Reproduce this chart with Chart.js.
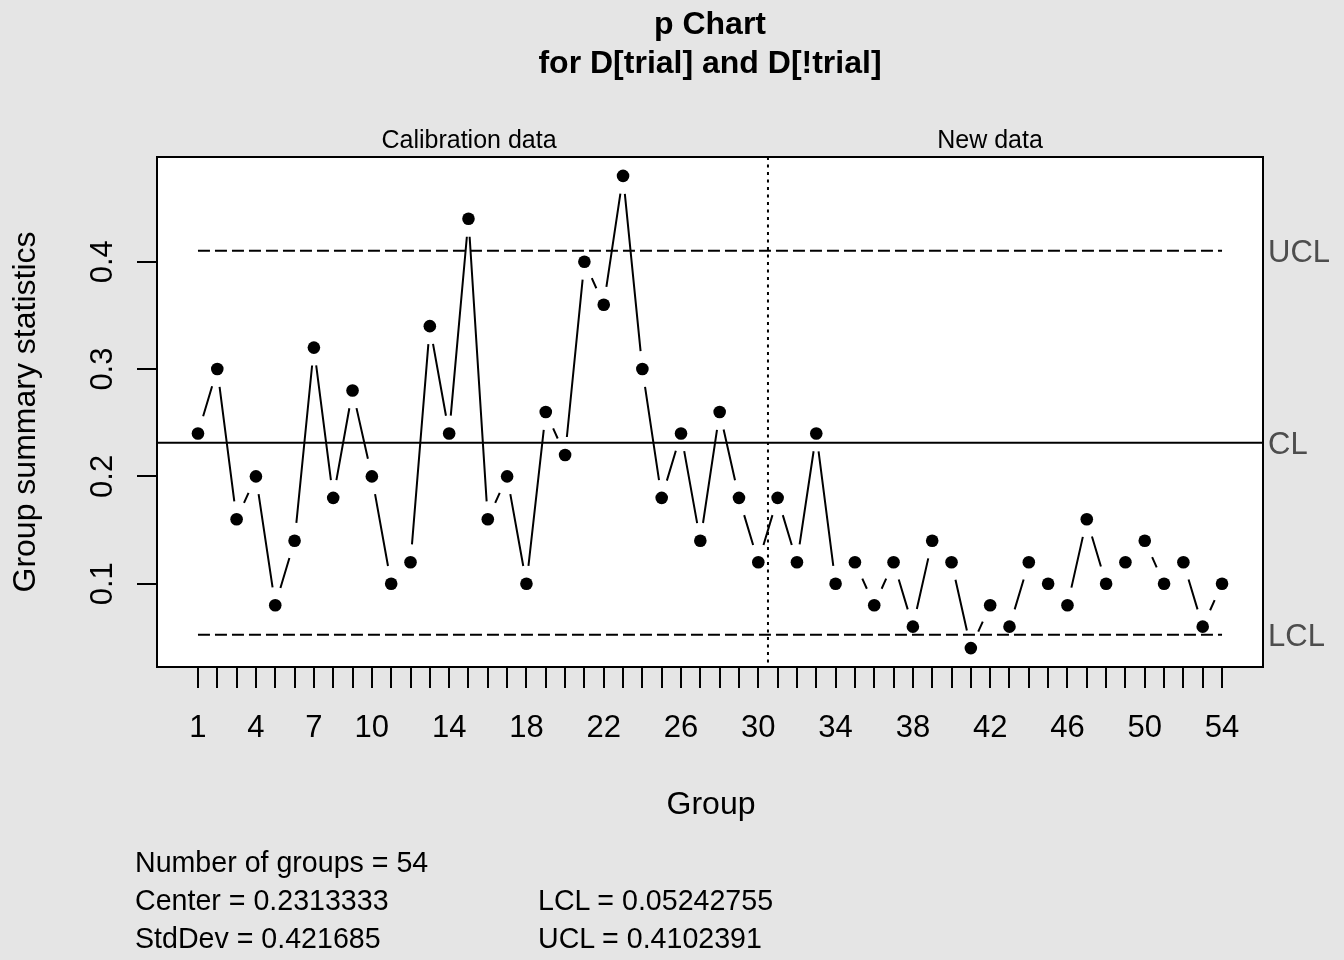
<!DOCTYPE html>
<html>
<head>
<meta charset="utf-8">
<script src="https://cdn.jsdelivr.net/npm/chart.js@4.4.1/dist/chart.umd.min.js"></script>
<style>
  html, body { margin: 0; padding: 0; background: #e5e5e5; }
  #wrap { position: relative; width: 1344px; height: 960px; overflow: hidden; font-family: "Liberation Sans", Arial, sans-serif; color: #000; }
  canvas { position: absolute; left: 0; top: 0; }
  .t { position: absolute; line-height: 0; white-space: nowrap; }
</style>
</head>
<body>
<div id="wrap"><canvas id="pChart" width="1344" height="960"></canvas></div>
<script>
// proportion defective per group (orange juice cans, n = 50)
const proportions = [
  0.24, 0.30, 0.16, 0.20, 0.08, 0.14, 0.32, 0.18, 0.28, 0.20,
  0.10, 0.12, 0.34, 0.24, 0.44, 0.16, 0.20, 0.10, 0.26, 0.22,
  0.40, 0.36, 0.48, 0.30, 0.18, 0.24, 0.14, 0.26, 0.18, 0.12,
  0.18, 0.12, 0.24, 0.10, 0.12, 0.08, 0.12, 0.06, 0.14, 0.12,
  0.04, 0.08, 0.06, 0.12, 0.10, 0.08, 0.16, 0.10, 0.12, 0.14,
  0.10, 0.12, 0.06, 0.10
]
const groups = proportions.map((_, i) => i + 1)
const xTickLabels = [1, 4, 7, 10, 14, 18, 22, 26, 30, 34, 38, 42, 46, 50, 54]
const yTicks = [0.1, 0.2, 0.3, 0.4]
const calibrationGroups = 30
const centerLine = 0.2313333
const lowerLimit = 0.05242755
const upperLimit = 0.4102391
const stdDev = 0.421685

const font = '"Liberation Sans", Arial, sans-serif'
Chart.defaults.font.family = font

// R-style axis extension (4% each side)
const nG = groups.length
const xMin = groups[0] - (nG - 1) * 0.04
const xMax = groups[nG - 1] + (nG - 1) * 0.04
const pMin = Math.min(...proportions), pMax = Math.max(...proportions)
const yMin = pMin - (pMax - pMin) * 0.04
const yMax = pMax + (pMax - pMin) * 0.04

const gap = 18

const rStyle = {
  id: "rStyle",
  beforeDraw(chart) {
    const { ctx, chartArea: a } = chart
    ctx.save()
    ctx.fillStyle = "#e5e5e5"
    ctx.fillRect(0, 0, chart.width, chart.height)
    ctx.fillStyle = "#ffffff"
    ctx.fillRect(a.left, a.top, a.right - a.left, a.bottom - a.top)
    ctx.restore()
  },
  afterDatasetsDraw(chart) {
    const { ctx, chartArea: a, scales } = chart
    const x = scales.x, y = scales.y
    ctx.save()
    ctx.strokeStyle = "#000"
    ctx.lineWidth = 2

    // center line
    const yc = y.getPixelForValue(centerLine)
    ctx.beginPath()
    ctx.moveTo(a.left, yc)
    ctx.lineTo(a.right, yc)
    ctx.stroke()

    // calibration / new data split
    const xs = x.getPixelForValue(calibrationGroups + 0.5)
    ctx.setLineDash([3, 4.5])
    ctx.beginPath()
    ctx.moveTo(xs, a.top)
    ctx.lineTo(xs, a.bottom)
    ctx.stroke()
    ctx.setLineDash([])

    // type = "b" segments with gaps around points
    const pts = chart.getDatasetMeta(0).data
    ctx.beginPath()
    for (let i = 0; i < pts.length - 1; i++) {
      const p0 = pts[i], p1 = pts[i + 1]
      const dx = p1.x - p0.x, dy = p1.y - p0.y
      const len = Math.hypot(dx, dy)
      if (len <= 2 * gap) continue
      const ux = dx / len, uy = dy / len
      ctx.moveTo(p0.x + ux * gap, p0.y + uy * gap)
      ctx.lineTo(p1.x - ux * gap, p1.y - uy * gap)
    }
    ctx.stroke()

    // box
    ctx.strokeRect(a.left, a.top, a.right - a.left, a.bottom - a.top)

    // y tick labels, parallel to the axis
    ctx.fillStyle = "#000"
    ctx.font = "31px " + font
    ctx.textAlign = "center"
    ctx.textBaseline = "alphabetic"
    yTicks.forEach(v => {
      ctx.save()
      ctx.translate(112, y.getPixelForValue(v))
      ctx.rotate(-Math.PI / 2)
      ctx.fillText(v.toFixed(1), 0, 0)
      ctx.restore()
    })

    // limit labels on the right
    ctx.fillStyle = "#4d4d4d"
    ctx.textAlign = "left"
    ctx.textBaseline = "middle"
    ;[["UCL", upperLimit], ["CL", centerLine], ["LCL", lowerLimit]].forEach(([lab, v]) => {
      ctx.fillText(lab, a.right + 5, y.getPixelForValue(v) + 3)
    })
    ctx.restore()
  }
}

const limitLine = v => [{ x: groups[0], y: v }, { x: groups[nG - 1], y: v }]

new Chart(document.getElementById("pChart"), {
  type: "line",
  data: {
    datasets: [
      {
        label: "p",
        data: groups.map((g, i) => ({ x: g, y: proportions[i] })),
        showLine: false,
        pointRadius: 6.3,
        pointBackgroundColor: "#000",
        pointBorderWidth: 0,
      },
      {
        label: "UCL",
        data: limitLine(upperLimit),
        borderColor: "#000",
        borderWidth: 2,
        borderDash: [12, 5],
        pointRadius: 0,
      },
      {
        label: "LCL",
        data: limitLine(lowerLimit),
        borderColor: "#000",
        borderWidth: 2,
        borderDash: [12, 5],
        pointRadius: 0,
      },
    ],
  },
  options: {
    responsive: false,
    animation: false,
    devicePixelRatio: 1,
    layout: { padding: { left: 0, right: 81, top: 157, bottom: 0 } },
    plugins: {
      legend: { display: false },
      tooltip: { enabled: false },
      title: { display: false },
    },
    scales: {
      x: {
        type: "linear",
        min: xMin,
        max: xMax,
        afterBuildTicks: s => { s.ticks = groups.map(v => ({ value: v })) },
        afterFit: s => { s.height = 293 },
        ticks: {
          autoSkip: false,
          maxRotation: 0,
          minRotation: 0,
          padding: 22,
          color: "#000",
          font: { size: 31 },
          callback: v => (xTickLabels.includes(v) ? String(v) : ""),
        },
        grid: { drawOnChartArea: false, drawTicks: true, tickLength: 21, color: "#000", lineWidth: 2 },
        border: { display: false },
      },
      y: {
        type: "linear",
        min: yMin,
        max: yMax,
        afterBuildTicks: s => { s.ticks = yTicks.map(v => ({ value: v })) },
        afterFit: s => { s.width = 157 },
        ticks: { display: false },
        grid: { drawOnChartArea: false, drawTicks: true, tickLength: 20, color: "#000", lineWidth: 2 },
        border: { display: false },
      },
    },
  },
  plugins: [rStyle],
})

// static text in the margins
const wrap = document.getElementById("wrap")
function addText(str, x, base, size, opt = {}) {
  const d = document.createElement("div")
  d.className = "t"
  d.textContent = str
  d.style.fontSize = size + "px"
  d.style.left = x + "px"
  d.style.top = base - 0.3465 * size + "px"
  if (opt.bold) d.style.fontWeight = "bold"
  if (opt.center) d.style.transform = "translateX(-50%)"
  wrap.appendChild(d)
  return d
}

addText("p Chart", 710, 34, 32, { bold: true, center: true })
addText("for D[trial] and D[!trial]", 710, 73, 32, { bold: true, center: true })
addText("Calibration data", 469, 148, 25, { center: true })
addText("New data", 990, 148, 25, { center: true })
addText("Group", 711, 814, 32, { center: true })

// rotated y title
const yt = document.createElement("div")
yt.style.cssText = "position:absolute;left:35px;top:412px;width:0;height:0;transform:rotate(-90deg);transform-origin:0 0;"
wrap.appendChild(yt)
const ytText = document.createElement("div")
ytText.className = "t"
ytText.textContent = "Group summary statistics"
ytText.style.fontSize = "32px"
ytText.style.left = "0px"
ytText.style.top = -0.3465 * 32 + "px"
ytText.style.transform = "translateX(-50%)"
yt.appendChild(ytText)

addText("Number of groups = " + nG, 135, 872, 28.6)
addText("Center = " + centerLine, 135, 910, 28.6)
addText("StdDev = " + stdDev, 135, 948, 28.6)
addText("LCL = " + lowerLimit, 538, 910, 28.6)
addText("UCL = " + upperLimit, 538, 948, 28.6)
</script>
</body>
</html>
